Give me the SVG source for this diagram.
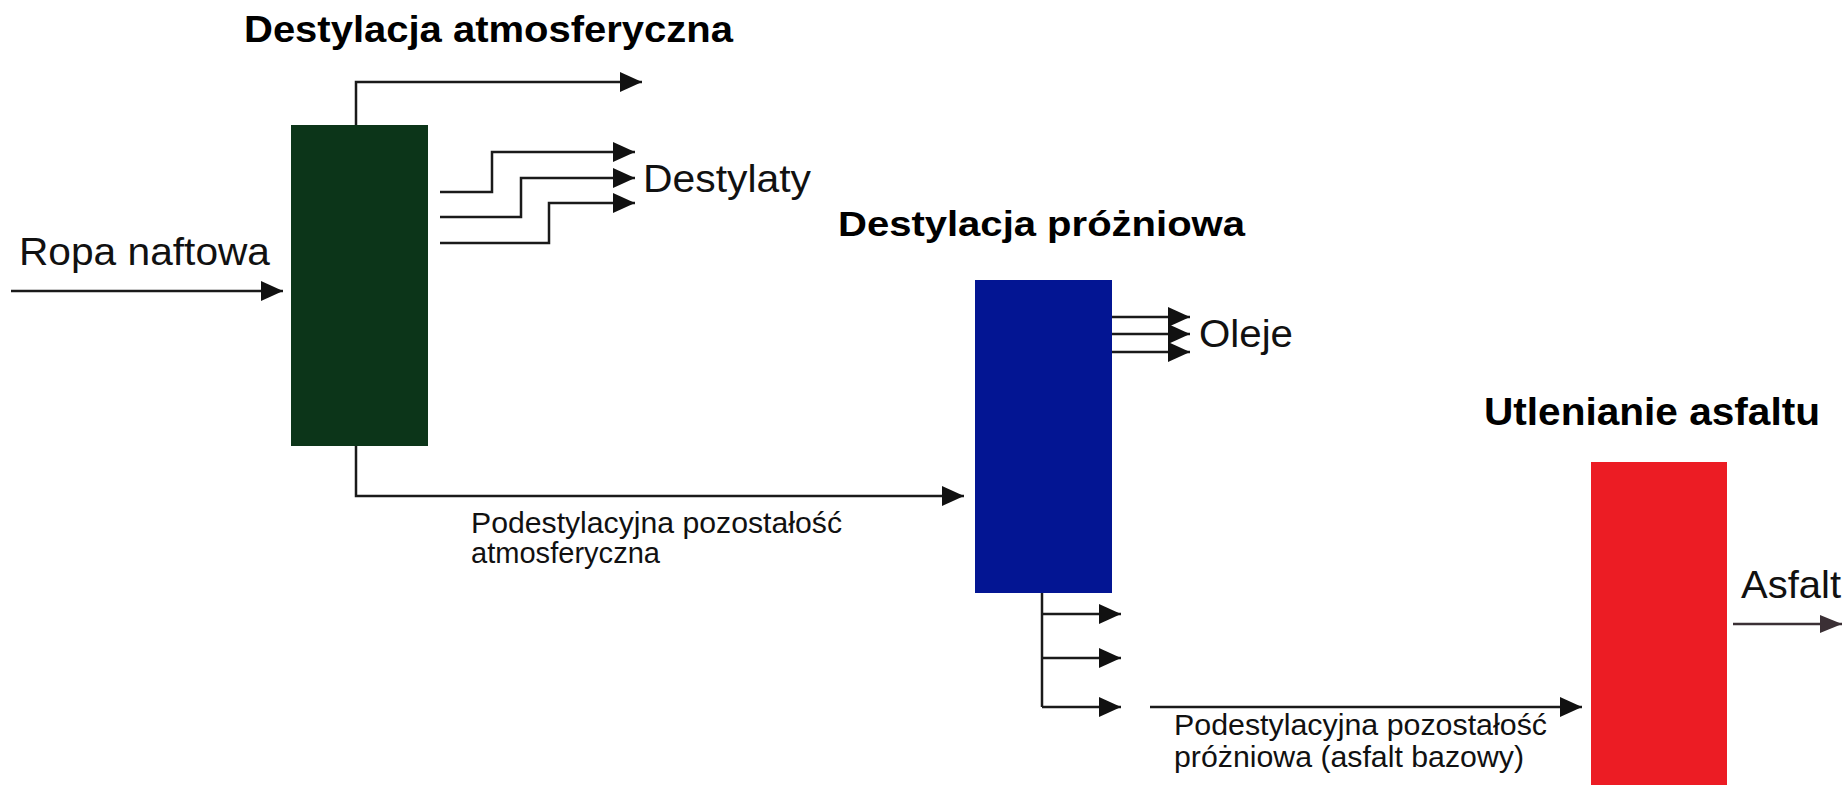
<svg xmlns="http://www.w3.org/2000/svg" width="1847" height="799" viewBox="0 0 1847 799">
  <defs>
    <marker id="ah" markerUnits="userSpaceOnUse" markerWidth="24" markerHeight="22" refX="22" refY="10" orient="auto">
      <path d="M0,0 L22,10 L0,20 Z" fill="#111"/>
    </marker>
    <marker id="ah2" markerUnits="userSpaceOnUse" markerWidth="24" markerHeight="22" refX="22" refY="10" orient="auto">
      <path d="M0,1 L22,10 L0,19 Z" fill="#3b3035"/>
    </marker>
  </defs>
  <style>
    .title { font-family: "Liberation Sans", Arial, sans-serif; font-weight: bold; fill: #000; }
    .lbl { font-family: "Liberation Sans", Arial, sans-serif; fill: #111; }
    .ln { fill: none; stroke: #1a1a1a; stroke-width: 2.5; }
    .arr { fill: none; stroke: #1a1a1a; stroke-width: 2.5; marker-end: url(#ah); }
  </style>
  <rect width="1847" height="799" fill="#fff"/>

  <g id="atm">
    <rect x="291" y="125" width="137" height="321" fill="#0c3519"/>
    <text class="title" x="244" y="42" font-size="37" textLength="489" lengthAdjust="spacingAndGlyphs">Destylacja atmosferyczna</text>
  </g>

  <g id="vac">
    <rect x="975" y="280" width="137" height="313" fill="#031593"/>
    <text class="title" x="838" y="236" font-size="35" textLength="407" lengthAdjust="spacingAndGlyphs">Destylacja próżniowa</text>
  </g>

  <g id="oxid">
    <rect x="1591" y="462" width="136" height="323" fill="#ec1c24"/>
    <text class="title" x="1484" y="425" font-size="38" textLength="336" lengthAdjust="spacingAndGlyphs">Utlenianie asfaltu</text>
  </g>

  <g id="connectors">
    <path class="arr" d="M11,291 L283,291"/>
    <path class="arr" d="M356,125 L356,82 L642,82"/>
    <path class="arr" d="M440,192 L492,192 L492,152 L635,152"/>
    <path class="arr" d="M440,217 L521,217 L521,178 L635,178"/>
    <path class="arr" d="M440,243 L549,243 L549,203 L635,203"/>
    <path class="arr" d="M356,446 L356,496 L964,496"/>
    <path class="arr" d="M1112,317 L1190,317"/>
    <path class="arr" d="M1112,334 L1190,334"/>
    <path class="arr" d="M1112,352 L1190,352"/>
    <path class="ln" d="M1042,593 L1042,707"/>
    <path class="arr" d="M1042,614 L1121,614"/>
    <path class="arr" d="M1042,658 L1121,658"/>
    <path class="arr" d="M1042,707 L1121,707"/>
    <path class="arr" d="M1150,707 L1582,707"/>
    <path d="M1733,624 L1842,624" fill="none" stroke="#3b3035" stroke-width="2.5" marker-end="url(#ah2)"/>
  </g>

  <g id="labels">
    <text class="lbl" x="19" y="265" font-size="38" textLength="251" lengthAdjust="spacingAndGlyphs">Ropa naftowa</text>
    <text class="lbl" x="643" y="192" font-size="38" textLength="168" lengthAdjust="spacingAndGlyphs">Destylaty</text>
    <text class="lbl" x="1199" y="347" font-size="38" textLength="94" lengthAdjust="spacingAndGlyphs">Oleje</text>
    <text class="lbl" x="1741" y="598" font-size="39" textLength="100" lengthAdjust="spacingAndGlyphs">Asfalt</text>
    <text class="lbl" x="471" y="533" font-size="30" textLength="371" lengthAdjust="spacingAndGlyphs">Podestylacyjna pozostałość</text>
    <text class="lbl" x="471" y="563" font-size="30" textLength="189" lengthAdjust="spacingAndGlyphs">atmosferyczna</text>
    <text class="lbl" x="1174" y="735" font-size="30" textLength="373" lengthAdjust="spacingAndGlyphs">Podestylacyjna pozostałość</text>
    <text class="lbl" x="1174" y="767" font-size="30" textLength="350" lengthAdjust="spacingAndGlyphs">próżniowa (asfalt bazowy)</text>
  </g>
</svg>
